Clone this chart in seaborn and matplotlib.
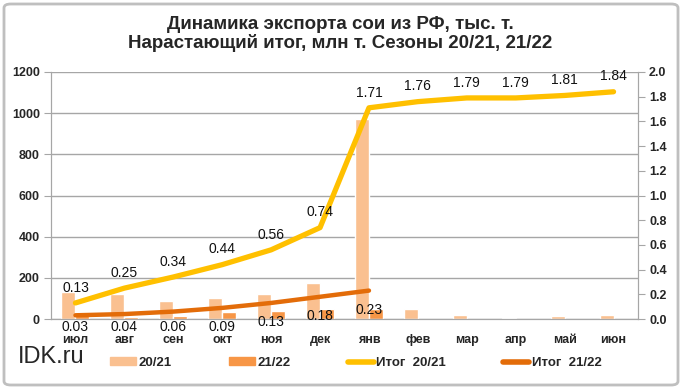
import numpy as np
import pandas as pd
import matplotlib
matplotlib.use("Agg")
import matplotlib.pyplot as plt
import seaborn as sns
from matplotlib.patches import FancyBboxPatch, Patch
from matplotlib.lines import Line2D

# --- Data ---
MONTHS = ["июл", "авг", "сен", "окт", "ноя", "дек", "янв", "фев", "мар", "апр", "май", "июн"]
EXP_2021 = [130, 120, 86, 101, 120, 174, 970, 50, 21, 6, 17, 20]
EXP_2122 = [30, 12, 14, 33, 38, 47, 47]
CUM_2021 = [0.13, 0.25, 0.34, 0.44, 0.56, 0.74, 1.71, 1.76, 1.79, 1.79, 1.81, 1.84]
CUM_2122 = [0.03, 0.04, 0.06, 0.09, 0.13, 0.18, 0.23]
SEASONS = ["20/21", "21/22"]

C_BAR1, C_BAR2 = "#FAC090", "#F79646"
C_LINE1, C_LINE2 = "#FFC000", "#E36C09"
GRID = "#a6a6a6"

sns.set_style("white")
plt.rcParams["font.family"] = ["Liberation Sans", "DejaVu Sans"]

bars = pd.DataFrame({
    "month": MONTHS + MONTHS[:len(EXP_2122)],
    "value": EXP_2021 + EXP_2122,
    "season": [SEASONS[0]] * len(EXP_2021) + [SEASONS[1]] * len(EXP_2122),
})
pos = np.arange(len(MONTHS))

fig = plt.figure(figsize=(6.82, 3.89), dpi=100)
ax = fig.add_axes([51 / 682, 1 - 319 / 389, 587 / 682, 247 / 389])
ax2 = ax.twinx()

sns.barplot(data=bars, x="month", y="value", hue="season", order=MONTHS, hue_order=SEASONS,
            palette=[C_BAR1, C_BAR2], width=0.572, gap=0, dodge=True, legend=False, ax=ax,
            saturation=1, zorder=2)
ax.set_ylim(0, 1200)
ax.set_yticks(range(0, 1201, 200))
ax.yaxis.grid(True, color=GRID, lw=1)
ax.set_axisbelow(True)
ax.set_xlim(-0.5, len(MONTHS) - 0.5)
ax.set_xlabel(""); ax.set_ylabel("")

sns.lineplot(x=pos, y=CUM_2021, color=C_LINE1, lw=3.8, ax=ax2, solid_capstyle="round")
sns.lineplot(x=pos[:len(CUM_2122)], y=CUM_2122, color=C_LINE2, lw=3.2, ax=ax2, solid_capstyle="round")
ax2.set_ylim(0, 2.0)
ax2.set_yticks(np.arange(0, 2.01, 0.2))
ax2.set_yticklabels([f"{v:.1f}" for v in np.arange(0, 2.01, 0.2)])
ax2.set_xlim(-0.5, len(MONTHS) - 0.5)

for x, v in zip(pos, CUM_2021):
    ax2.annotate(f"{v:.2f}", (x, v), xytext=(0, 11), textcoords="offset points",
                 ha="center", va="center", fontsize=10, color="#111111")
for x, v in zip(pos, CUM_2122):
    ax2.text(x, max(v - 0.155, -0.065), f"{v:.2f}", ha="center", va="center",
             fontsize=10, color="#111111", clip_on=False)

# axes styling
for a in (ax, ax2):
    for s in a.spines.values():
        s.set_color(GRID)
    a.spines["top"].set_visible(False)
ax.set_xticks(pos)
ax.set_xticklabels(MONTHS, fontweight="bold", fontsize=9)
ax.set_xticks(np.arange(-0.5, len(MONTHS), 1), minor=True)
ax.tick_params(axis="x", which="major", length=0, pad=11)
ax.tick_params(axis="x", which="minor", length=5, color=GRID, direction="out")
ax.tick_params(axis="y", length=5, color=GRID, direction="out", labelsize=9, pad=3)
ax2.tick_params(axis="y", length=5, color=GRID, direction="out", labelsize=9, pad=3)
for lab in ax.get_yticklabels() + ax2.get_yticklabels():
    lab.set_fontweight("bold")

fig.text(340 / 682, 1 - 34 / 389,
         "Динамика экспорта сои из РФ, тыс. т.\nНарастающий итог, млн т. Сезоны 20/21, 21/22",
         ha="center", va="center", fontsize=13.5, fontweight="bold", linespacing=1.12)
fig.text(18 / 682, 1 - 357 / 389, "IDK.ru", fontsize=17, va="center", ha="left")

handles = [Patch(color=C_BAR1), Patch(color=C_BAR2),
           Line2D([], [], color=C_LINE1, lw=4), Line2D([], [], color=C_LINE2, lw=4)]
labels = SEASONS + ["Итог  " + s for s in SEASONS]
fig.legend(handles, labels, ncol=4, loc="center left", bbox_to_anchor=(110 / 682, 1 - 363 / 389),
           frameon=False, borderpad=0, borderaxespad=0, handlelength=1.95, handleheight=0.55,
           handletextpad=0.2, columnspacing=4.35, prop={"size": 9.5, "weight": "bold"})

fig.patches.append(FancyBboxPatch((4 / 682, 4 / 389), 674 / 682, 381 / 389,
                                  boxstyle="round,pad=0,rounding_size=0.01",
                                  transform=fig.transFigure, fill=False,
                                  edgecolor="#bfbfbf", lw=2))

fig.savefig("out.png", dpi=100)
